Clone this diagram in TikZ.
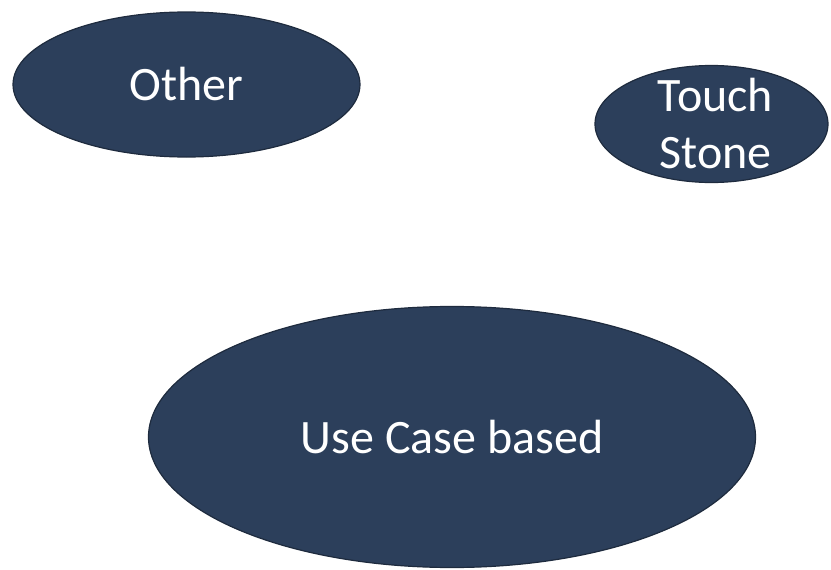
\documentclass[tikz,border=0pt]{standalone}
\usepackage{fontspec}
\setmainfont{Carlito}
\usetikzlibrary{shapes.geometric}
\definecolor{blobfill}{HTML}{2C3F5B}
\definecolor{blobline}{HTML}{1E2B3E}
\begin{document}
\begin{tikzpicture}[x=1pt,y=-1pt,
  blob/.style={ellipse,fill=blobfill,draw=blobline,line width=1.2pt,inner sep=0pt},
  blobtext/.style={text=white,font=\fontsize{48}{57}\selectfont,align=center}]
\useasboundingbox (0,0) rectangle (831,570);
\node[blob,minimum width=347,minimum height=145] (other) at (186.5,84.5) {};
\node[blobtext] (otherT) at (other.center) {Other};
\node[blob,minimum width=233,minimum height=117] (touch) at (711.5,124) {};
\node[blobtext] (touchT) at ([xshift=4pt]touch.center) {Touch\\Stone};
\node[blob,minimum width=607,minimum height=261] (use) at (452,437) {};
\node[blobtext] (useT) at (use.center) {Use Case based};
\end{tikzpicture}
\end{document}
